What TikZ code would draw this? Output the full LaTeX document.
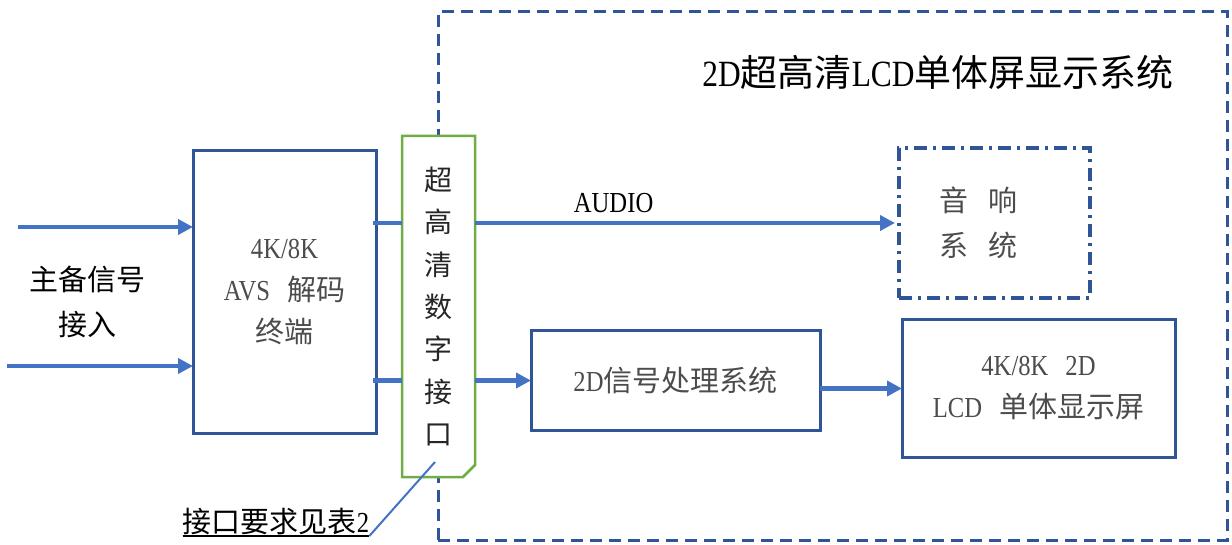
\documentclass[tikz,border=0pt]{standalone}
\usepackage{fontspec}
\setmainfont[FakeStretch=0.85]{Liberation Serif}
\newfontfamily\cjk{Noto Sans CJK SC}
\usetikzlibrary{arrows.meta}
\definecolor{arrowblue}{HTML}{4472C4}
\definecolor{boxblue}{HTML}{2F5597}
\definecolor{ifgreen}{HTML}{70AD47}
\newcommand{\wsp}{\hspace{17pt}}
\begin{document}
\begin{tikzpicture}[x=1pt,y=-1pt,
    blk/.style={draw=boxblue,line width=3pt,inner sep=0pt,outer sep=0pt,align=center,
      text=black!70,font=\fontsize{29}{42}\selectfont},
    sig/.style={draw=arrowblue,line width=4.5pt},
    sigarrow/.style={sig,-{Triangle[length=15pt,width=15pt]}},
    frame/.style={draw=boxblue,line width=3pt,dash pattern=on 12pt off 7pt},
    dashdot/.style={draw=boxblue,line width=3.5pt,dash pattern=on 13pt off 6pt on 3pt off 6pt}]
  \useasboundingbox (0,0) rectangle (1232,545);
  \node[frame,minimum width=789pt,minimum height=528pt,inner sep=0pt] (sys) at (832.5,276) {};
  \node[font=\fontsize{37}{40}\selectfont] (title) at (938,72) {2D{\cjk 超高清}LCD{\cjk 单体屏显示系统}};
  \node[blk,minimum width=183pt,minimum height=282pt] (decoder) at (284.5,292)
    {4K/8K\\AVS\wsp{\cjk 解码}\\{\cjk 终端}};
  \node[align=center,font=\fontsize{29}{45}\selectfont\cjk] (input) at (87,302) {主备信号\\接入};
  \node[minimum width=73pt,minimum height=341pt,inner sep=0pt,outer sep=0pt] (iface) at (438.5,306.5) {};
  \filldraw[fill=white,draw=ifgreen,line width=2.5pt]
    (iface.north west) -- (iface.north east) -- ([yshift=12pt]iface.south east)
    -- ([xshift=-12pt]iface.south east) -- (iface.south west) -- cycle;
  \node[align=center,font=\fontsize{28}{42.3}\selectfont\cjk,text=black!85] at (iface) {超\\高\\清\\数\\字\\接\\口};
  \node[blk,dashdot,minimum width=191pt,minimum height=150pt] (audio) at (994.5,223) {};
  \node[align=center,text=black!70,font=\fontsize{29}{45}\selectfont\cjk] at ([xshift=-16pt]audio)
    {音\hspace{0.7em}响\\系\hspace{0.7em}统};
  \node[blk,minimum width=289pt,minimum height=99pt] (proc) at (675.5,380.5) {2D{\cjk 信号处理系统}};
  \node[blk,minimum width=273pt,minimum height=137pt] (lcd) at (1038.5,388.5)
    {4K/8K\wsp 2D\\LCD\wsp{\cjk 单体显示屏}};
  \coordinate (in1) at (18,227);
  \coordinate (in2) at (7,366);
  \coordinate (tip) at (435,462);
  \node[anchor=south,inner xsep=0pt,inner ysep=1pt,font=\fontsize{29}{32}\selectfont] (note) at (276,536)
    {{\cjk 接口要求见表}2};
  \begin{scope}
    \draw[sigarrow] (in1) -- (in1 -| decoder.west);
    \draw[sigarrow] (in2) -- (in2 -| decoder.west);
    \draw[sig] ([xshift=-3pt]decoder.east |- audio.west) -- (iface.west |- audio.west);
    \draw[sig] ([xshift=-3pt]decoder.east |- proc.west) -- (iface.west |- proc.west);
    \draw[sigarrow] (iface.east |- audio.west) -- node[pos=0.33,above=5pt,font=\fontsize{29}{32}\selectfont] {AUDIO} ([xshift=-4pt]audio.west);
    \draw[sigarrow] (iface.east |- proc.west) -- (proc.west);
    \draw[sigarrow] (proc.east |- lcd.west) -- (lcd.west);
    \draw[black,line width=2pt] (note.south west) -- (note.south east);
    \draw[arrowblue,line width=2pt] (note.south east) -- (tip);
  \end{scope}
\end{tikzpicture}
\end{document}
